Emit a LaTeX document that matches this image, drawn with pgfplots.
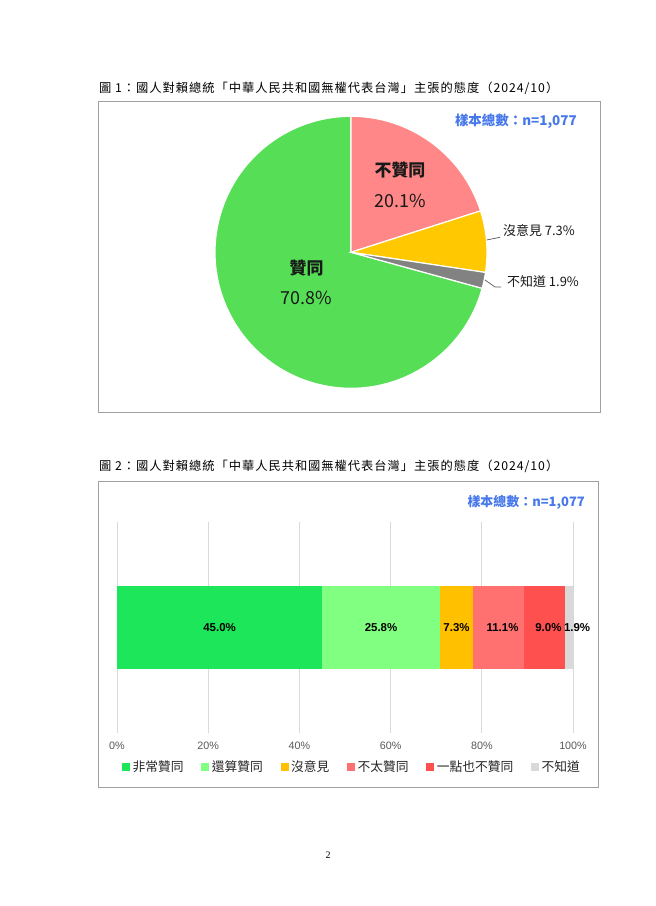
\documentclass[border=0pt]{standalone}
\usepackage{pgfplots}
\pgfplotsset{compat=1.18}
\usepackage{fontspec}
\setmainfont{Liberation Sans}
\newfontfamily\cjk{Noto Sans CJK TC}
\newfontfamily\cjktitle[LetterSpace=8]{Noto Sans CJK TC}
\newfontfamily\serifnum{Liberation Serif}
\definecolor{piepink}{RGB}{255,135,135}
\definecolor{pieyellow}{RGB}{255,200,0}
\definecolor{piegray}{RGB}{130,130,130}
\definecolor{piegreen}{RGB}{86,222,86}
\definecolor{bA}{RGB}{30,230,90}
\definecolor{bB}{RGB}{128,255,128}
\definecolor{bC}{RGB}{255,192,0}
\definecolor{bD}{RGB}{255,112,112}
\definecolor{bE}{RGB}{255,80,80}
\definecolor{bF}{RGB}{217,217,217}
\definecolor{nblue}{RGB}{70,120,235}
\definecolor{boxgray}{RGB}{160,160,160}
\definecolor{ticktext}{RGB}{89,89,89}
\pgfplotsset{sqleg/.style={legend image code/.code={\fill[draw=none,fill=#1] (0bp,-4bp) rectangle (8bp,4bp);}}}
\begin{document}
\begin{tikzpicture}[x=1bp,y=1bp]
% page
\fill[white] (0,0) rectangle (656,906);
% ---------- Figure 1 ----------
\node[anchor=west,inner sep=0pt,font=\cjktitle\fontsize{12.3}{14}\selectfont] at (99,817.7)
  {圖 1：國人對賴總統「中華人民共和國無權代表台灣」主張的態度（2024/10）};
\draw[boxgray,line width=1bp] (98,804.5) rectangle (600,493.5);
% pie values (percent), clockwise from top
\pgfmathsetmacro\pA{20.1}% 不贊同
\pgfmathsetmacro\pB{7.3}%  沒意見
\pgfmathsetmacro\pC{1.9}%  不知道
\pgfmathsetmacro\pD{70.8}% 贊同
\pgfmathsetmacro\ptot{\pA+\pB+\pC+\pD}
\pgfmathsetmacro\aO{90}
\pgfmathsetmacro\aA{\aO-\pA/\ptot*360}
\pgfmathsetmacro\aB{\aA-\pB/\ptot*360}
\pgfmathsetmacro\aC{\aB-\pC/\ptot*360}
\pgfmathsetmacro\aD{\aC-\pD/\ptot*360}
\begin{axis}[at={(351bp,653.7bp)},anchor=center,x=136bp,y=136bp,
  xmin=-1,xmax=1,ymin=-1,ymax=1,hide axis,clip=false]
\filldraw[fill=piegreen,draw=white,line width=1.2bp] (axis cs:0,0) -- (axis cs:{cos(\aC)},{sin(\aC)}) arc[start angle=\aC,end angle=\aD,radius=136bp] -- cycle;
\filldraw[fill=piepink,draw=white,line width=1.2bp] (axis cs:0,0) -- (axis cs:{cos(\aO)},{sin(\aO)}) arc[start angle=\aO,end angle=\aA,radius=136bp] -- cycle;
\filldraw[fill=pieyellow,draw=white,line width=1.2bp] (axis cs:0,0) -- (axis cs:{cos(\aA)},{sin(\aA)}) arc[start angle=\aA,end angle=\aB,radius=136bp] -- cycle;
\filldraw[fill=piegray,draw=white,line width=1.2bp] (axis cs:0,0) -- (axis cs:{cos(\aB)},{sin(\aB)}) arc[start angle=\aB,end angle=\aC,radius=136bp] -- cycle;
\end{axis}
% pie labels
\node[inner sep=0pt,text=black!90,font=\cjk\bfseries\fontsize{17}{20}\selectfont] at (400,736) {不贊同};
\node[inner sep=0pt,text=black!90,font=\cjk\fontsize{18}{20}\selectfont] at (400,705.5) {20.1\%};
\node[inner sep=0pt,text=black!90,font=\cjk\bfseries\fontsize{17}{20}\selectfont] at (306.5,638.3) {贊同};
\node[inner sep=0pt,text=black!90,font=\cjk\fontsize{18}{20}\selectfont] at (306.5,608) {70.8\%};
\node[inner sep=0pt,text=black!90,anchor=west,font=\cjk\fontsize{13}{15}\selectfont] at (503,675.3) {沒意見 7.3\%};
\node[inner sep=0pt,text=black!90,anchor=west,font=\cjk\fontsize{13}{15}\selectfont] at (507,624) {不知道 1.9\%};
\draw[ticktext,line width=0.7bp] (486.7,666) -- (500,668.7);
\draw[ticktext,line width=0.7bp] (485,626) -- (495,619) -- (501,619);
\node[anchor=east,inner sep=0pt,text=nblue,font=\cjk\bfseries\fontsize{13.5}{15}\selectfont] at (577,784.3) {樣本總數：n=1,077};
% ---------- Figure 2 ----------
\node[anchor=west,inner sep=0pt,font=\cjktitle\fontsize{12.3}{14}\selectfont] at (99,439.5)
  {圖 2：國人對賴總統「中華人民共和國無權代表台灣」主張的態度（2024/10）};
\draw[boxgray,line width=1bp] (98,424.5) rectangle (598.5,118.5);
\node[anchor=east,inner sep=0pt,text=nblue,font=\cjk\bfseries\fontsize{13}{15}\selectfont] at (585,404) {樣本總數：n=1,077};
\begin{axis}[at={(117bp,173bp)},anchor=south west,scale only axis,
  width=456bp,height=211.3bp,
  xbar stacked, bar width=83bp,
  xmin=0,xmax=100,ymin=-1,ymax=1,
  xtick={0,20,40,60,80,100},ytick=\empty,
  xticklabels={0\%,20\%,40\%,60\%,80\%,100\%},
  xticklabel style={anchor=center,yshift=-13bp,font=\fontsize{10.8}{12}\selectfont,text=ticktext},
  xmajorgrids, major grid style={color=bF,line width=0.9bp},
  axis line style={draw=none}, tick style={draw=none},
  clip=false,
  legend columns=-1,
  legend style={draw=none,fill=none,at={(axis description cs:0,0)},anchor=west,
    xshift=5bp,yshift=-34bp,inner sep=0pt,
    font=\cjk\fontsize{12.8}{14}\selectfont,text=black!85,
    nodes={inner xsep=2.5bp,inner ysep=0pt},
    /tikz/every even column/.append style={column sep=15.2bp}},
  ]
\addplot[fill=bA,draw=none,sqleg=bA] coordinates {(45.0,0)};
\addplot[fill=bB,draw=none,sqleg=bB] coordinates {(25.8,0)};
\addplot[fill=bC,draw=none,sqleg=bC] coordinates {(7.3,0)};
\addplot[fill=bD,draw=none,sqleg=bD] coordinates {(11.1,0)};
\addplot[fill=bE,draw=none,sqleg=bE] coordinates {(9.0,0)};
\addplot[fill=bF,draw=none,sqleg=bF] coordinates {(1.9,0)};
\legend{非常贊同,還算贊同,沒意見,不太贊同,一點也不贊同,不知道}
\coordinate (l1) at (axis cs:22.5,0);
\coordinate (l2) at (axis cs:57.9,0);
\coordinate (l3) at (axis cs:74.45,0);
\coordinate (l4) at (axis cs:84.55,0);
\coordinate (l5) at (axis cs:94.6,0);
\coordinate (l6) at (axis cs:100.9,0);
\end{axis}
\begin{scope}[every node/.style={inner sep=0pt,font=\bfseries\fontsize{11.5}{13}\selectfont}]
\node at (l1) {45.0\%};
\node at (l2) {25.8\%};
\node at (l3) {7.3\%};
\node at (l4) {11.1\%};
\node at (l5) {9.0\%};
\node at (l6) {1.9\%};
\end{scope}
% page number
\node[font=\serifnum\fontsize{10}{11}\selectfont] at (328,51) {2};
\end{tikzpicture}
\end{document}
